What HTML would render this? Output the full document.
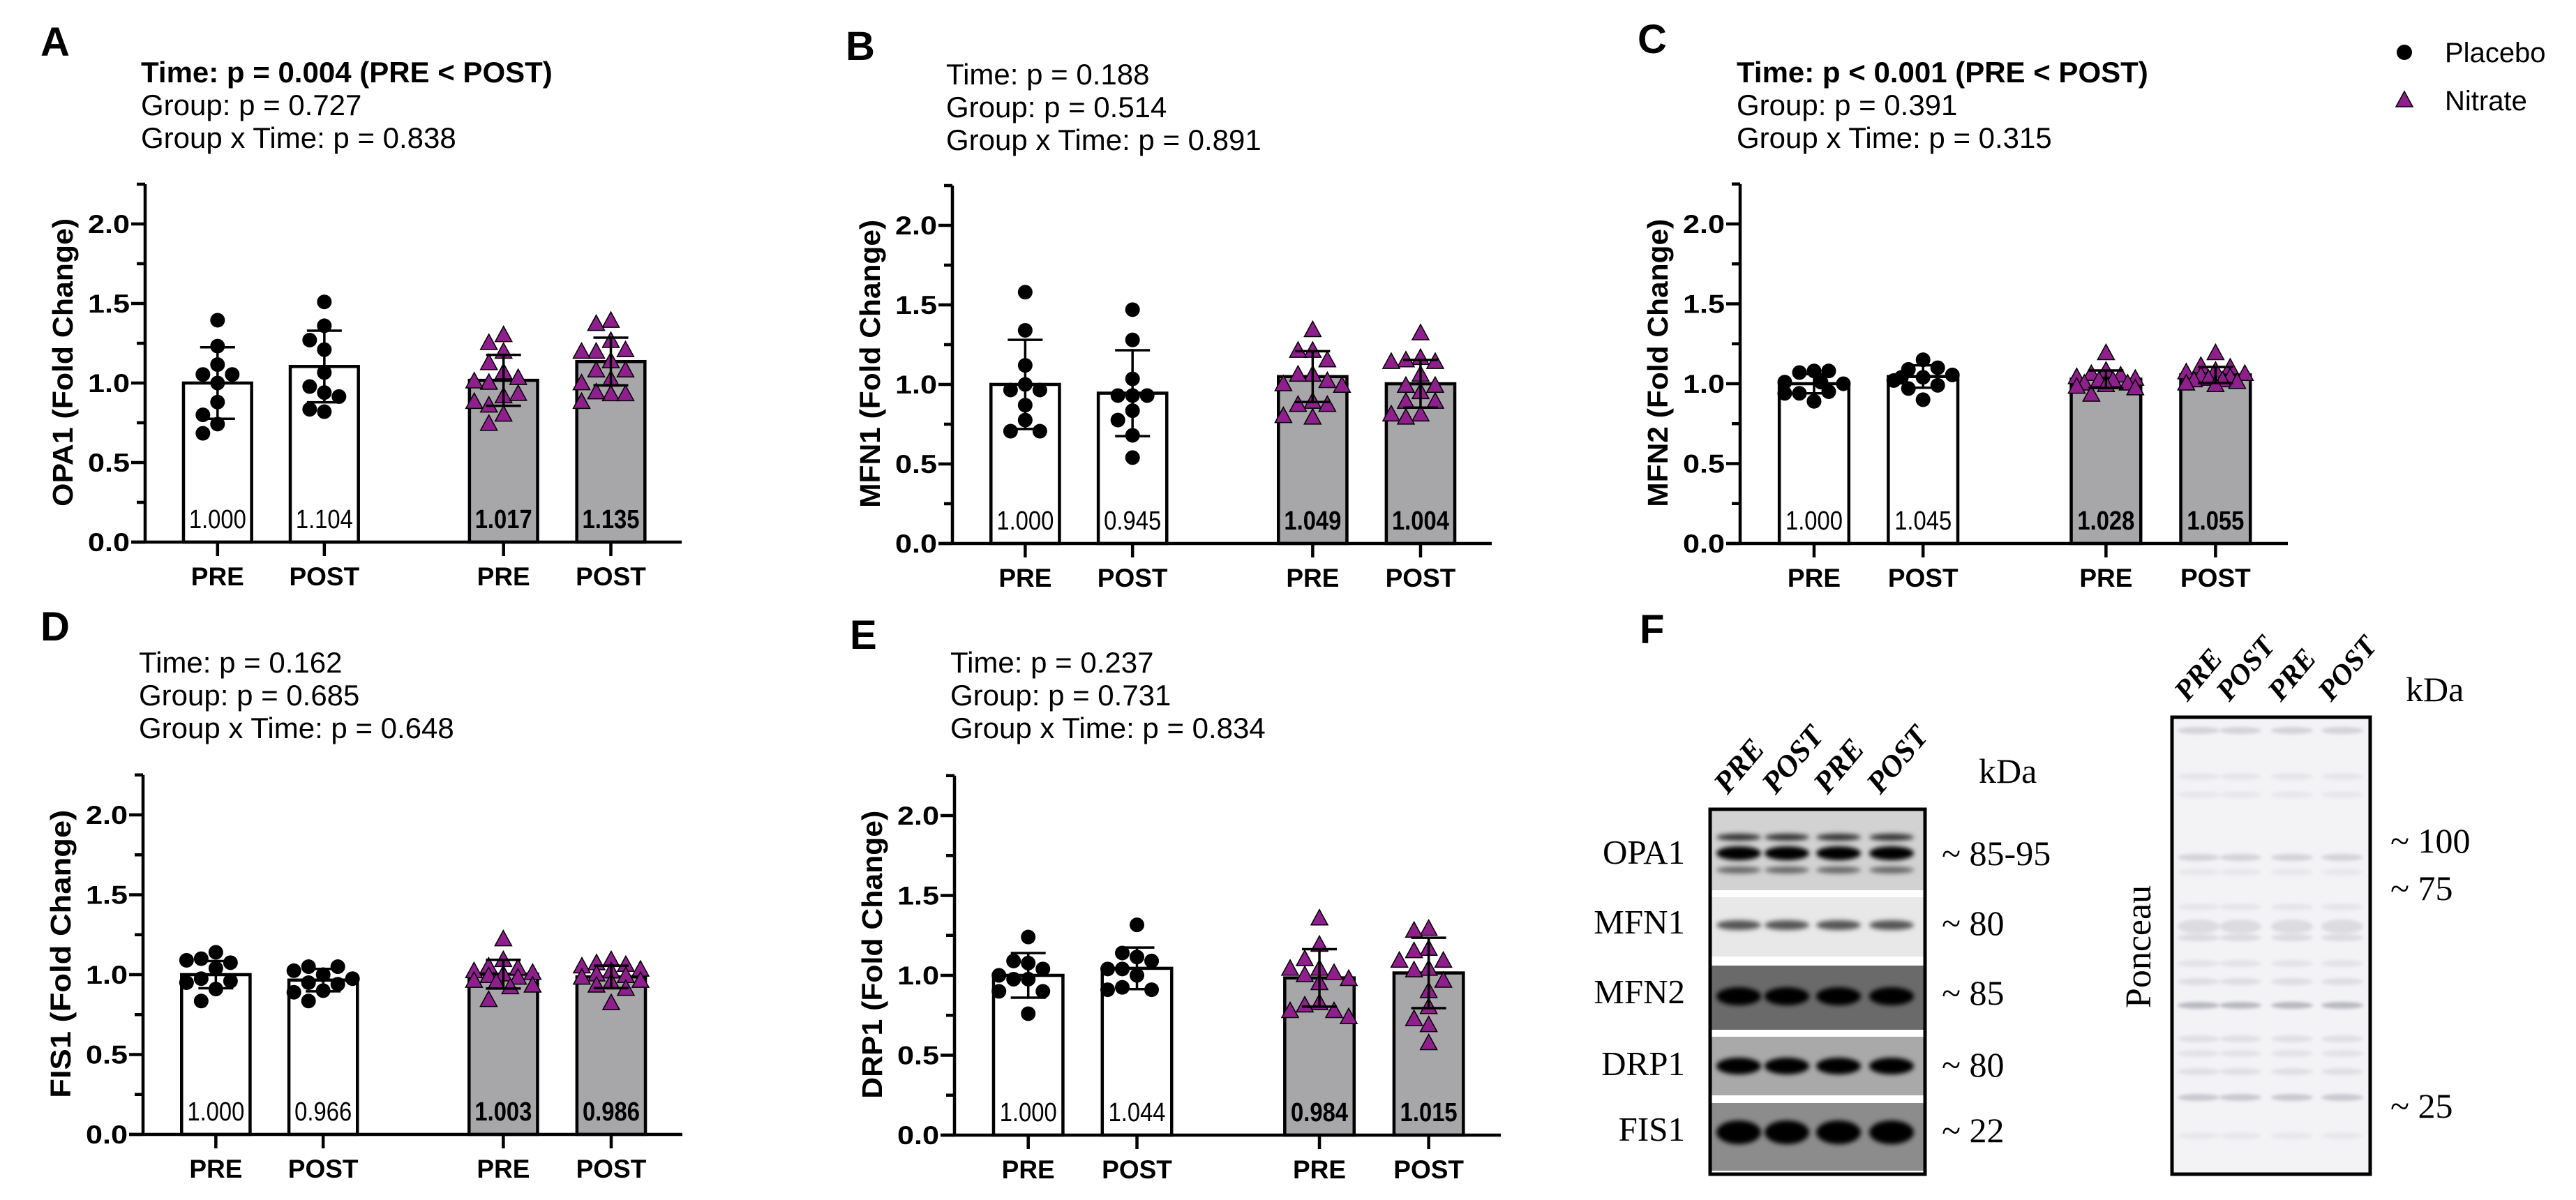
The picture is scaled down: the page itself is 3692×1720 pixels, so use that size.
<!DOCTYPE html>
<html><head><meta charset="utf-8"><style>
html,body{margin:0;padding:0;background:#fff;}
svg{display:block;font-family:"Liberation Sans",Arial,sans-serif;}
</style></head><body>
<svg id="fig" width="3692" height="1720" viewBox="0 0 3692 1720" xmlns="http://www.w3.org/2000/svg">
<defs>
<filter id="blur3" x="-50%" y="-100%" width="200%" height="300%"><feGaussianBlur stdDeviation="3.5"/></filter>
<filter id="blur2" x="-50%" y="-100%" width="200%" height="300%"><feGaussianBlur stdDeviation="2.5"/></filter>
</defs>
<g id="charts"></g>
<g id="legend">
  <circle cx="3446" cy="75" r="11" fill="#000"/>
  <text x="3504" y="89" font-size="40">Placebo</text>
  <polygon points="3446,131 3434,153 3458,153" fill="#8e1f8c" stroke="#000" stroke-width="1.5"/>
  <text x="3504" y="158" font-size="40">Nitrate</text>
</g>
<g id="blots"></g>
</svg>
<script>
// ---------- DATA ----------
const groupLabels = ['PRE','POST','PRE','POST'];
const panelLetters = ['A','B','C','D','E'];
const yTitles = ['OPA1 (Fold Change)','MFN1 (Fold Change)','MFN2 (Fold Change)','FIS1 (Fold Change)','DRP1 (Fold Change)'];
const statsTime = ['Time: p = 0.004 (PRE < POST)','Time: p = 0.188','Time: p < 0.001 (PRE < POST)','Time: p = 0.162','Time: p = 0.237'];
const statsGroup = ['Group: p = 0.727','Group: p = 0.514','Group: p = 0.391','Group: p = 0.685','Group: p = 0.731'];
const statsInter = ['Group x Time: p = 0.838','Group x Time: p = 0.891','Group x Time: p = 0.315','Group x Time: p = 0.648','Group x Time: p = 0.834'];
const timeSignificant = [true,false,true,false,false];
const yTicks = [0,0.5,1.0,1.5,2.0];
const yTickLabels = ['0.0','0.5','1.0','1.5','2.0'];
const yMax = 2.25;

const meansA = [1.000,1.104,1.017,1.135];
const sdsA = [0.225,0.225,0.16,0.15];
const ptsA = [
 [1.395,1.232,1.116,1.054,1.054,1.0,0.88,0.80,0.742,0.684],
 [1.51,1.36,1.27,1.21,1.066,0.978,0.94,0.915,0.82,0.835],
 [1.30,1.25,1.195,1.124,1.066,1.0,1.03,1.009,0.915,0.93,0.857,0.80,0.88,0.742],
 [1.39,1.37,1.263,1.195,1.205,1.195,1.136,1.078,1.078,1.02,0.997,0.928,0.94,0.928,0.88]
];
const meansB = [1.000,0.945,1.049,1.004];
const sdsB = [0.28,0.27,0.16,0.15];
const ptsB = [
 [1.58,1.34,1.12,1.0,0.965,0.965,0.87,0.776,0.706,0.706],
 [1.47,1.28,1.035,0.93,0.93,0.93,0.835,0.776,0.68,0.54],
 [1.34,1.21,1.21,1.15,1.06,1.06,1.02,1.0,0.99,0.89,0.87,0.87,0.79,0.80],
 [1.32,1.165,1.15,1.14,1.14,1.06,0.99,0.99,0.95,0.89,0.89,0.81,0.81,0.79]
];
const meansC = [1.000,1.045,1.028,1.055];
const sdsC = [0.06,0.07,0.055,0.05];
const ptsC = [
 [1.08,1.07,1.08,1.01,1.0,1.01,0.94,0.95,0.89,0.94],
 [1.15,1.09,1.10,1.04,1.02,1.055,0.97,0.90,0.99,1.04],
 [1.19,1.08,1.06,1.05,1.04,1.03,1.02,1.02,1.0,1.0,0.99,0.98,0.97,0.93],
 [1.19,1.11,1.10,1.08,1.07,1.06,1.05,1.04,1.03,1.02,1.02,1.01,1.0,0.99]
];
const meansD = [1.000,0.966,1.003,0.986];
const sdsD = [0.085,0.07,0.09,0.07];
const ptsD = [
 [1.14,1.10,1.075,1.09,1.04,0.975,0.96,0.95,0.91,0.835],
 [1.0,1.05,1.05,1.025,0.95,0.975,0.94,0.90,0.835,0.89],
 [1.22,1.09,1.05,1.04,1.02,1.01,1.0,0.99,0.98,0.96,0.95,0.93,0.92,0.84],
 [1.09,1.07,1.06,1.05,1.03,1.02,1.0,0.99,0.98,0.96,0.95,0.93,0.91,0.82]
];
const meansE = [1.000,1.044,0.984,1.015];
const sdsE = [0.14,0.13,0.18,0.22];
const ptsE = [
 [1.24,1.077,1.09,1.04,1.0,0.976,0.976,0.9,0.9,0.76],
 [1.316,1.115,1.14,1.09,1.04,1.04,1.0,0.925,0.91,0.91],
 [1.355,1.19,1.10,1.04,1.014,1.0,1.04,0.976,0.95,0.825,0.81,0.775,0.775,0.737],
 [1.29,1.278,1.165,1.15,1.09,1.09,1.04,1.03,0.965,0.9,0.8,0.725,0.687,0.574]
];
const allMeans = [meansA,meansB,meansC,meansD,meansE];
const allSds = [sdsA,sdsB,sdsC,sdsD,sdsE];
const allPts = [ptsA,ptsB,ptsC,ptsD,ptsE];

// ---------- LAYOUT ----------
const NS = 'http://www.w3.org/2000/svg';
const layout = [
 {ax:208, axEnd:977, y0:777, unit:228, lx:58, ly:80, tx:202, ty:118},
 {ax:1365, axEnd:2138, y0:779, unit:228, lx:1212, ly:86, tx:1356, ty:121},
 {ax:2494, axEnd:3279, y0:779, unit:229, lx:2347, ly:76, tx:2489, ty:118},
 {ax:205, axEnd:978, y0:1626, unit:229, lx:58, ly:918, tx:199, ty:964},
 {ax:1368, axEnd:2151, y0:1627, unit:229, lx:1218, ly:930, tx:1362, ty:964}
];
const centerFrac = [0.135,0.334,0.668,0.868];
const barFrac = 0.127;
const PURPLE = '#8e1f8c';

function mk(tag, attrs, parent){
  const el = document.createElementNS(NS, tag);
  for (const k in attrs) el.setAttribute(k, attrs[k]);
  parent.appendChild(el);
  return el;
}
const root = document.getElementById('charts');

function beeswarm(vals, yFn, r){
  const cands = [0,-21,21,-42,42,-10,10,-31,31];
  const placed = [];
  return vals.map(v=>{
    const y = yFn(v);
    let best = 0, bestD = -1;
    for (const c of cands){
      let md = 1e9;
      for (const p of placed){ md = Math.min(md, Math.hypot(p.x-c, p.y-y)); }
      if (md >= 2*r*0.95){ best = c; bestD = 1e9; break; }
      if (md > bestD){ bestD = md; best = c; }
    }
    placed.push({x:best, y:y});
    return best;
  });
}

for (let p = 0; p < 5; p++){
  const L = layout[p];
  const g = mk('g', {}, root);
  
  
  const W = L.axEnd - L.ax;
  const xC = i => L.ax + centerFrac[i]*W;
  const yS = v => L.y0 - v*L.unit;
  const bw = barFrac*W;

  const letter = mk('text', {x:L.lx, y:L.ly, 'font-size':58, 'font-weight':'bold'}, g);
  letter.textContent = panelLetters[p];
  
  

  const lines = [statsTime[p], statsGroup[p], statsInter[p]];
  lines.forEach((t, i)=>{
    const el = mk('text', {x:L.tx, y:L.ty + i*47, 'font-size':42, 'font-weight': (i===0 && timeSignificant[p]) ? 'bold':'normal'}, g);
    el.textContent = t;
    
    
  });

  for (let i = 0; i < 4; i++){
    const m = allMeans[p][i];
    const rect = mk('rect', {x:xC(i)-bw/2, y:yS(m), width:bw, height:m*L.unit, fill: i<2 ? '#fff' : '#a7a7aa', stroke:'#000', 'stroke-width':4.5}, g);
    
    
    const vt = mk('text', {x:xC(i), y:L.y0-20, 'font-size':38, 'text-anchor':'middle', textLength:82, lengthAdjust:'spacingAndGlyphs', 'font-weight': i<2?'normal':'bold'}, g);
    vt.textContent = m.toFixed(3);
    
    
  }
  for (let i = 0; i < 4; i++){
    const vals = allPts[p][i];
    const offs = beeswarm(vals, yS, 11);
    vals.forEach((v, k)=>{
      const x = xC(i) + offs[k], y = yS(v);
      let el;
      if (i < 2){
        el = mk('circle', {cx:x, cy:y, r:10.5, fill:'#000'}, g);
        
      } else {
        el = mk('polygon', {points:`${x},${y-13} ${x-12},${y+9} ${x+12},${y+9}`, fill:PURPLE, stroke:'#000', 'stroke-width':1.5}, g);
        
      }
      
    });
  }
  for (let i = 0; i < 4; i++){
    const m = allMeans[p][i], s = allSds[p][i], x = xC(i);
    const eg = mk('g', {stroke:'#000', 'stroke-width':3.5}, g);
    
    
    mk('line', {x1:x, x2:x, y1:yS(m-s), y2:yS(m+s)}, eg);
    mk('line', {x1:x-25, x2:x+25, y1:yS(m+s), y2:yS(m+s)}, eg);
    mk('line', {x1:x-25, x2:x+25, y1:yS(m-s), y2:yS(m-s)}, eg);
  }
  const axg = mk('g', {stroke:'#000', 'stroke-width':4.5}, g);
  
  
  mk('line', {x1:L.ax, x2:L.ax, y1:yS(yMax), y2:L.y0+2}, axg);
  mk('line', {x1:L.ax-20, x2:L.axEnd, y1:L.y0, y2:L.y0}, axg);
  for (let v = 0.25; v <= yMax+0.001; v += 0.5){
    mk('line', {x1:L.ax-12, x2:L.ax, y1:yS(v), y2:yS(v)}, axg);
  }
  yTicks.forEach((v, i)=>{
    mk('line', {x1:L.ax-20, x2:L.ax, y1:yS(v), y2:yS(v)}, axg);
    const t = mk('text', {x:L.ax-22, y:yS(v)+13, 'font-size':37, 'font-weight':'bold', 'text-anchor':'end', stroke:'none', fill:'#000', textLength:60, lengthAdjust:'spacingAndGlyphs'}, g);
    t.textContent = yTickLabels[i];
    
    
  });
  for (let i = 0; i < 4; i++){
    mk('line', {x1:xC(i), x2:xC(i), y1:L.y0, y2:L.y0+20}, axg);
    const t = mk('text', {x:xC(i), y:L.y0+62, 'font-size':37, 'font-weight':'bold', 'text-anchor':'middle'}, g);
    t.textContent = groupLabels[i];
    
    
  }
  const cy = yS(1.13), cx = L.ax - 118;
  const yt = mk('text', {x:0, y:0, 'font-size':41, 'font-weight':'bold', 'text-anchor':'middle', transform:`translate(${cx+14},${cy}) rotate(-90)`, textLength:413, lengthAdjust:'spacingAndGlyphs'}, g);
  yt.textContent = yTitles[p];
  
  
}

// ---------- BLOTS (panel F) ----------
const blotRoot = document.getElementById('blots');
const F = mk('text', {x:2350, y:922, 'font-size':58, 'font-weight':'bold'}, blotRoot);
F.textContent = 'F';



const laneNames = ['PRE','POST','PRE','POST'];
const blotLaneX = [2492,2561,2635,2711];
const proteins = ['OPA1','MFN1','MFN2','DRP1','FIS1'];
const kdaLabels = ['~ 85-95','~ 80','~ 85','~ 80','~ 22'];
const stripTop = [1163,1286,1384,1486,1581];
const stripBot = [1276,1371,1476,1570,1678];
const stripBg = ['#d2d2d2','#e8e8e8','#6a6a6a','#a9a9a9','#8c8c8c'];
const labelY = [1238,1338,1438,1541,1635];

const blotG = mk('g', {}, blotRoot);


mk('rect', {x:2451, y:1160, width:308, height:523, fill:'#fff'}, blotG);
for (let s = 0; s < 5; s++){
  mk('rect', {x:2451, y:stripTop[s], width:308, height:stripBot[s]-stripTop[s], fill:stripBg[s]}, blotG);
  const t = mk('text', {x:2415, y:labelY[s], 'font-size':49, 'font-family':'"Liberation Serif",serif', 'text-anchor':'end'}, blotRoot);
  t.textContent = proteins[s];
  
  
  const k = mk('text', {x:2783, y:labelY[s]+2, 'font-size':50, 'font-family':'"Liberation Serif",serif'}, blotRoot);
  k.textContent = kdaLabels[s];
  
  
}
const bandSpec = [
 [1200,5,'#333',1],[1223,10,'#000',1],[1247,5,'#666',1],
 [1326,7,'#555',1],
 [1428,13,'#000',1],
 [1528,12,'#000',1],
 [1623,17,'#000',1]
];
bandSpec.forEach(b=>{
  blotLaneX.forEach(x=>{
    const e = mk('ellipse', {cx:x, cy:b[0], rx:32, ry:b[1], fill:b[2], filter:'url(#blur3)', opacity:b[3]}, blotG);
    
    
  });
});
mk('rect', {x:2451, y:1160, width:308, height:523, fill:'none', stroke:'#000', 'stroke-width':5}, blotG);
blotLaneX.forEach((x, i)=>{
  const t = mk('text', {x:0, y:0, 'font-size':44, 'font-weight':'bold', 'font-style':'italic', 'font-family':'"Liberation Serif",serif', transform:`translate(${x-16},${1140}) rotate(-50)`}, blotRoot);
  t.textContent = laneNames[i];
  
  
});
const kd1 = mk('text', {x:2836, y:1122, 'font-size':50, 'font-family':'"Liberation Serif",serif'}, blotRoot);
kd1.textContent = 'kDa';



const pLaneX = [3151,3211,3285,3357];
const pBandY = [1047,1113,1139,1229,1250,1300,1328,1344,1381,1407,1441,1489,1510,1536,1573,1628];
const pBandA = [0.3,0.12,0.1,0.3,0.1,0.12,0.22,0.22,0.15,0.2,0.55,0.18,0.15,0.18,0.4,0.1];
const pG = mk('g', {}, blotRoot);


mk('rect', {x:3113, y:1028, width:284, height:655, fill:'#f3f3f6'}, pG);
pBandY.forEach((y, j)=>{
  pLaneX.forEach(x=>{
    const e = mk('ellipse', {cx:x, cy:y, rx:30, ry:j===6?10:5, fill:'#8a8a95', opacity:pBandA[j], filter:'url(#blur2)'}, pG);
    
    
  });
});
mk('rect', {x:3113, y:1028, width:284, height:655, fill:'none', stroke:'#000', 'stroke-width':5}, pG);
pLaneX.forEach((x, i)=>{
  const t = mk('text', {x:0, y:0, 'font-size':42, 'font-weight':'bold', 'font-style':'italic', 'font-family':'"Liberation Serif",serif', transform:`translate(${x-16},${1007}) rotate(-50)`}, blotRoot);
  t.textContent = laneNames[i];
  
  
});
const pKda = ['~ 100','~ 75','~ 25'];
const pKdaY = [1222,1290,1602];
pKda.forEach((s, i)=>{
  const t = mk('text', {x:3426, y:pKdaY[i], 'font-size':50, 'font-family':'"Liberation Serif",serif'}, blotRoot);
  t.textContent = s;
  
  
});
const kd2 = mk('text', {x:3448, y:1005, 'font-size':50, 'font-family':'"Liberation Serif",serif'}, blotRoot);
kd2.textContent = 'kDa';


const pon = mk('text', {x:0, y:0, 'font-size':52, 'font-family':'"Liberation Serif",serif', 'text-anchor':'middle', transform:'translate(3082,1357) rotate(-90)'}, blotRoot);
pon.textContent = 'Ponceau';


</script>
</body></html>
